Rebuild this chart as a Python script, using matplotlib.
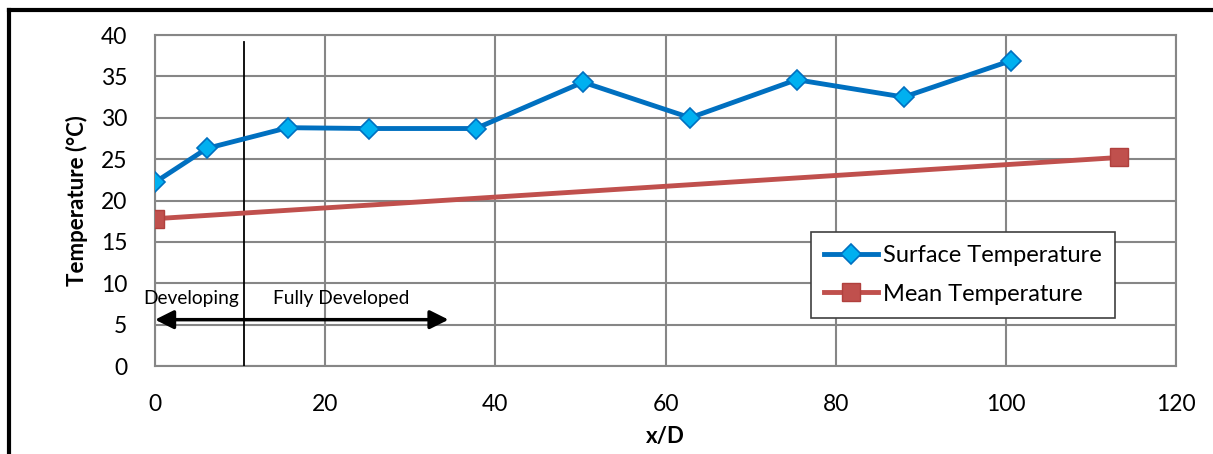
import matplotlib.pyplot as plt
from matplotlib.lines import Line2D

plt.rcParams['font.family'] = ['Lato', 'DejaVu Sans']

# surface temperature along the tube
x_surf = [0, 6.1, 15.6, 25.1, 37.7, 50.3, 62.9, 75.4, 88.0, 100.6]
t_surf = [22.2, 26.3, 28.8, 28.7, 28.7, 34.3, 30.0, 34.6, 32.5, 36.9]
# mean (bulk) temperature, inlet and outlet
x_mean = [0, 113.3]
t_mean = [17.8, 25.2]
# entrance region boundary and arrow extent
x_dev = 10.5
arrow_x = [0, 34.5]
arrow_y = 5.6

fig = plt.figure(figsize=(12.13, 4.54), dpi=100)
ax = fig.add_axes([0.1278, 0.1938, 0.8417, 0.7291])

ax.plot(x_surf, t_surf, color='#0070C0', lw=3.5, marker='D', ms=10,
        mfc='#00B0F0', mec='#0070C0', mew=1.2, label='Surface Temperature', zorder=4)
ax.plot(x_mean, t_mean, color='#C0504D', lw=3.5, marker='s', ms=13,
        mfc='#C0504D', mec='#B0403D', label='Mean Temperature', zorder=4)

ax.plot([x_dev, x_dev], [0, 39.2], color='black', lw=1.3, zorder=3)
ax.annotate('', xy=(arrow_x[0], arrow_y), xytext=(arrow_x[1], arrow_y),
            arrowprops=dict(arrowstyle='<|-|>', color='black', lw=2.5,
                            mutation_scale=28, shrinkA=0, shrinkB=0), zorder=3)
ax.text(-1.4, 8.2, 'Developing', fontsize=13.8, ha='left', va='center')
ax.text(13.9, 8.2, 'Fully Developed', fontsize=13.8, ha='left', va='center')

ax.set_xlim(0, 120)
ax.set_ylim(0, 40)
ax.set_xticks(range(0, 121, 20))
ax.set_yticks(range(0, 41, 5))
ax.grid(True, color='#868686', lw=1.5)
ax.set_axisbelow(True)
for s in ax.spines.values():
    s.set_color('#868686')
    s.set_linewidth(1.5)
ax.tick_params(length=0, labelsize=16.5, pad=20)
ax.tick_params(axis='y', pad=20)
ax.set_xlabel('x/D', fontsize=16, fontweight='bold', labelpad=8)
ax.set_ylabel('Temperature (\u00b0C)', fontsize=16, fontweight='bold', labelpad=9)

leg = ax.legend(loc='upper left', bbox_to_anchor=(0.6425, 0.405), fontsize=17,
                fancybox=False, framealpha=1, edgecolor='#404040',
                handlelength=2.3, handletextpad=0.2, borderpad=0.55,
                labelspacing=0.75, borderaxespad=0)
leg.get_frame().set_linewidth(1.2)

# frame around the chart (only top and left show)
fig.add_artist(Line2D([9/1213, 1], [1 - 10/454, 1 - 10/454], color='black', lw=3))
fig.add_artist(Line2D([9/1213, 9/1213], [0, 1 - 10/454], color='black', lw=3))

fig.savefig('out.png', dpi=100)
